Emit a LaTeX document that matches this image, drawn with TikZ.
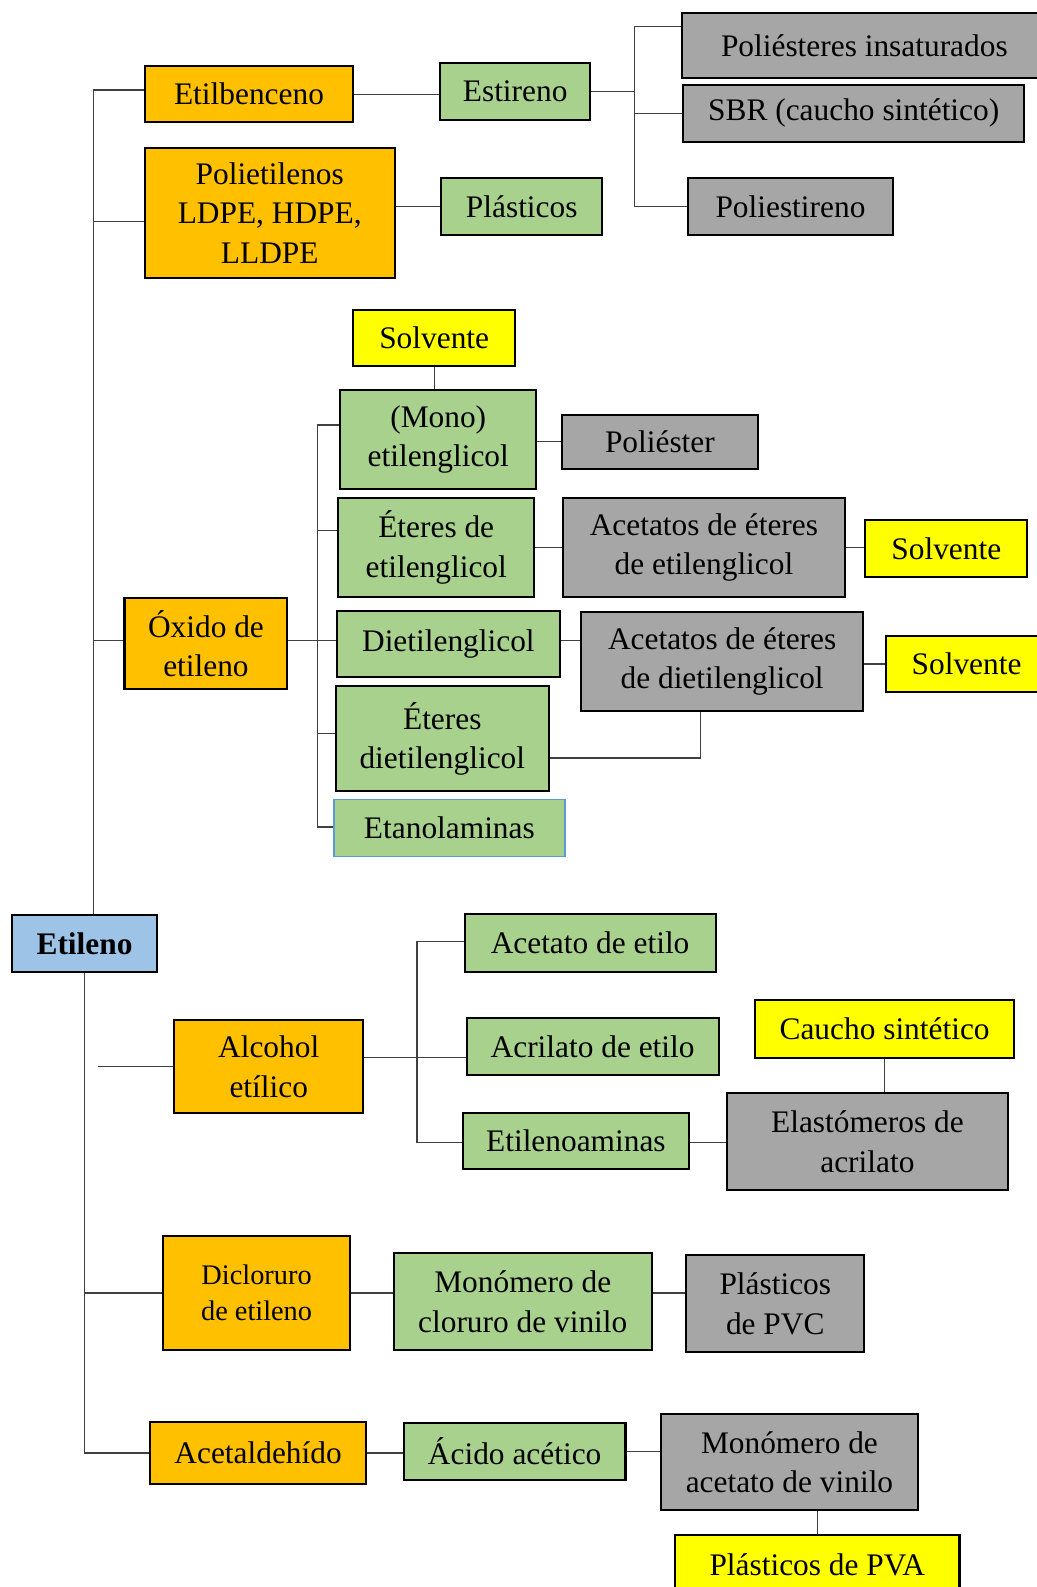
\documentclass[tikz,border=0pt]{standalone}
\usepackage{fontspec}
\setmainfont{Liberation Serif}
\definecolor{cOr}{HTML}{FFC000}
\definecolor{cGr}{HTML}{A9D18E}
\definecolor{cGy}{HTML}{A6A6A6}
\definecolor{cYe}{HTML}{FFFF00}
\definecolor{cBl}{HTML}{9DC3E6}
\definecolor{cBd}{HTML}{5B9BD5}
\newcommand\bx[7]{\node[box,#6,minimum width={#4pt-#2pt},minimum height={#5pt-#3pt}] (#1) at ({(#2+#4)/2},{(#3+#5)/2}) {#7};}
\begin{document}
\begin{tikzpicture}[x=1pt,y=-1pt,
  box/.style={draw=black,line width=2pt,inner sep=0pt,align=center,font=\fontsize{31}{39}\selectfont},
  conn/.style={draw=black!75,line width=1.2pt},
  org/.style={fill=cOr}, grn/.style={fill=cGr}, gry/.style={fill=cGy},
  yel/.style={fill=cYe}, blu/.style={fill=cBl}]
\useasboundingbox (0,0) rectangle (1024,1568);
% top
\bx{etilb}{143}{65}{349}{121}{org}{Etilbenceno}
\bx{polie}{143}{146}{390}{275}{org}{Polietilenos\\LDPE, HDPE,\\LLDPE}
\bx{estir}{435}{62}{583}{119}{grn}{Estireno}
\bx{plast}{436}{176}{595}{232}{grn}{Plásticos}
\bx{polins}{674}{13}{1034}{77}{gry}{Poliésteres insaturados}
\bx{sbr}{675}{84}{1012}{140}{gry}{SBR (caucho sintético)}
\bx{pest}{680}{176}{882}{232}{gry}{Poliestireno}
% middle
\bx{solv1}{349}{306}{509}{362}{yel}{Solvente}
\bx{mono}{336}{385}{530}{483}{grn}{(Mono)\\etilenglicol}
\bx{polies}{555}{410}{749}{463}{gry}{Poliéster}
\bx{etglic}{334}{492}{528}{590}{grn}{Éteres de\\etilenglicol}
\bx{acet1}{556}{492}{835}{590}{gry}{Acetatos de éteres\\de etilenglicol}
\bx{solv2}{855}{514}{1015}{570}{yel}{Solvente}
\bx{dietil}{333}{604}{553}{669}{grn}{Dietilenglicol}
\bx{acet2}{574}{605}{853}{702}{gry}{Acetatos de éteres\\de dietilenglicol}
\bx{solv3}{875}{628}{1035}{684}{yel}{Solvente}
\bx{etdiet}{332}{678}{542}{782}{grn}{Éteres\\dietilenglicol}
\bx{etanol}{330}{790}{558}{846}{grn,draw=cBd,line width=1.5pt}{Etanolaminas}
\bx{oxido}{123}{591}{284}{681}{org}{Óxido de\\etileno}
% bottom
\bx{etileno}{12}{904}{155}{960}{blu}{\bfseries Etileno}
\bx{alc}{172}{1008}{359}{1100}{org}{Alcohol\\etílico}
\bx{acet}{459}{903}{707}{960}{grn}{Acetato de etilo}
\bx{acril}{461}{1006}{710}{1062}{grn}{Acrilato de etilo}
\bx{etam}{457}{1100}{681}{1155}{grn}{Etilenoaminas}
\bx{caucho}{746}{988}{1002}{1045}{yel}{Caucho sintético}
\bx{elast}{718}{1080}{996}{1176}{gry}{Elastómeros de\\acrilato}
\bx{dicl}{161}{1221}{346}{1334}{org,font=\fontsize{28}{35}\selectfont}{Dicloruro\\de etileno}
\bx{mvc}{389}{1238}{644}{1334}{grn}{Monómero de\\cloruro de vinilo}
\bx{pvc}{678}{1240}{854}{1336}{gry}{Plásticos\\de PVC}
\bx{acetal}{148}{1405}{362}{1466}{org}{Acetaldehído}
\bx{acido}{399}{1406}{618}{1462}{grn}{Ácido acético}
\bx{mav}{653}{1397}{907}{1492}{gry}{Monómero de\\acetato de vinilo}
\bx{pva}{667}{1517}{948}{1575}{yel}{Plásticos de PVA}
% connectors: top trunk
\coordinate (tT) at (92,89);
\draw[conn] (etilb.west |- tT) -- (tT) -- (tT |- etileno.north);
\coordinate (yPol) at (0,219);
\draw[conn] (polie.west |- yPol) -- (tT |- yPol);
\coordinate (yDi) at (0,633);
\draw[conn] (oxido.west |- yDi) -- (tT |- yDi);
% estireno group
\draw[conn] (etilb.east) -- (estir.west |- etilb.east);
\coordinate (bT) at (627,26);
\draw[conn] (estir.east) -- (estir.east -| bT);
\draw[conn] (polins.west |- bT) -- (bT) -- (bT |- pest.west) -- (pest.west);
\draw[conn] (sbr.west) -- (sbr.west -| bT);
\draw[conn] (polie.east |- plast.west) -- (plast.west);
% oxido group
\draw[conn] (solv1.south) -- (solv1.south |- mono.north);
\coordinate (bO) at (314,420);
\coordinate (bOb) at (314,817);
\draw[conn] (mono.west |- bO) -- (bO) -- (bOb) -- (etanol.west |- bOb);
\coordinate (yEt) at (0,524);
\draw[conn] (etglic.west |- yEt) -- (bO |- yEt);
\draw[conn] (oxido.east |- yDi) -- (dietil.west |- yDi);
\coordinate (yEd) at (0,725);
\draw[conn] (etdiet.west |- yEd) -- (bO |- yEd);
\draw[conn] (mono.east |- polies.west) -- (polies.west);
\draw[conn] (etglic.east) -- (acet1.west |- etglic.east);
\draw[conn] (acet1.east) -- (solv2.west |- acet1.east);
\draw[conn] (dietil.east |- yDi) -- (acet2.west |- yDi);
\draw[conn] (acet2.east |- solv3.west) -- (solv3.west);
\coordinate (cE) at (692,749);
\draw[conn] (etdiet.east |- cE) -- (cE) -- (cE |- acet2.south);
% bottom
\draw[conn] (etileno.south) |- (acetal.west);
\draw[conn] (dicl.west) -- (dicl.west -| etileno.south);
\coordinate (aL) at (97,0);
\draw[conn] (alc.west) -- (alc.west -| aL);
\coordinate (bA) at (412,930);
\coordinate (bB) at (412,1129);
\draw[conn] (acet.west |- bA) -- (bA) -- (bB) -- (etam.west |- bB);
\coordinate (yAl) at (0,1045);
\draw[conn] (alc.east |- yAl) -- (acril.west |- yAl);
\draw[conn] (etam.east |- bB) -- (elast.west |- bB);
\draw[conn] (caucho.south) -- (caucho.south |- elast.north);
\draw[conn] (dicl.east) -- (mvc.west |- dicl.east);
\draw[conn] (mvc.east |- dicl.east) -- (pvc.west |- dicl.east);
\draw[conn] (acetal.east) -- (acido.west |- acetal.east);
\draw[conn] (acido.east) -- (mav.west |- acido.east);
\draw[conn] (pva.north) -- (pva.north |- mav.south);
\end{tikzpicture}
\end{document}
